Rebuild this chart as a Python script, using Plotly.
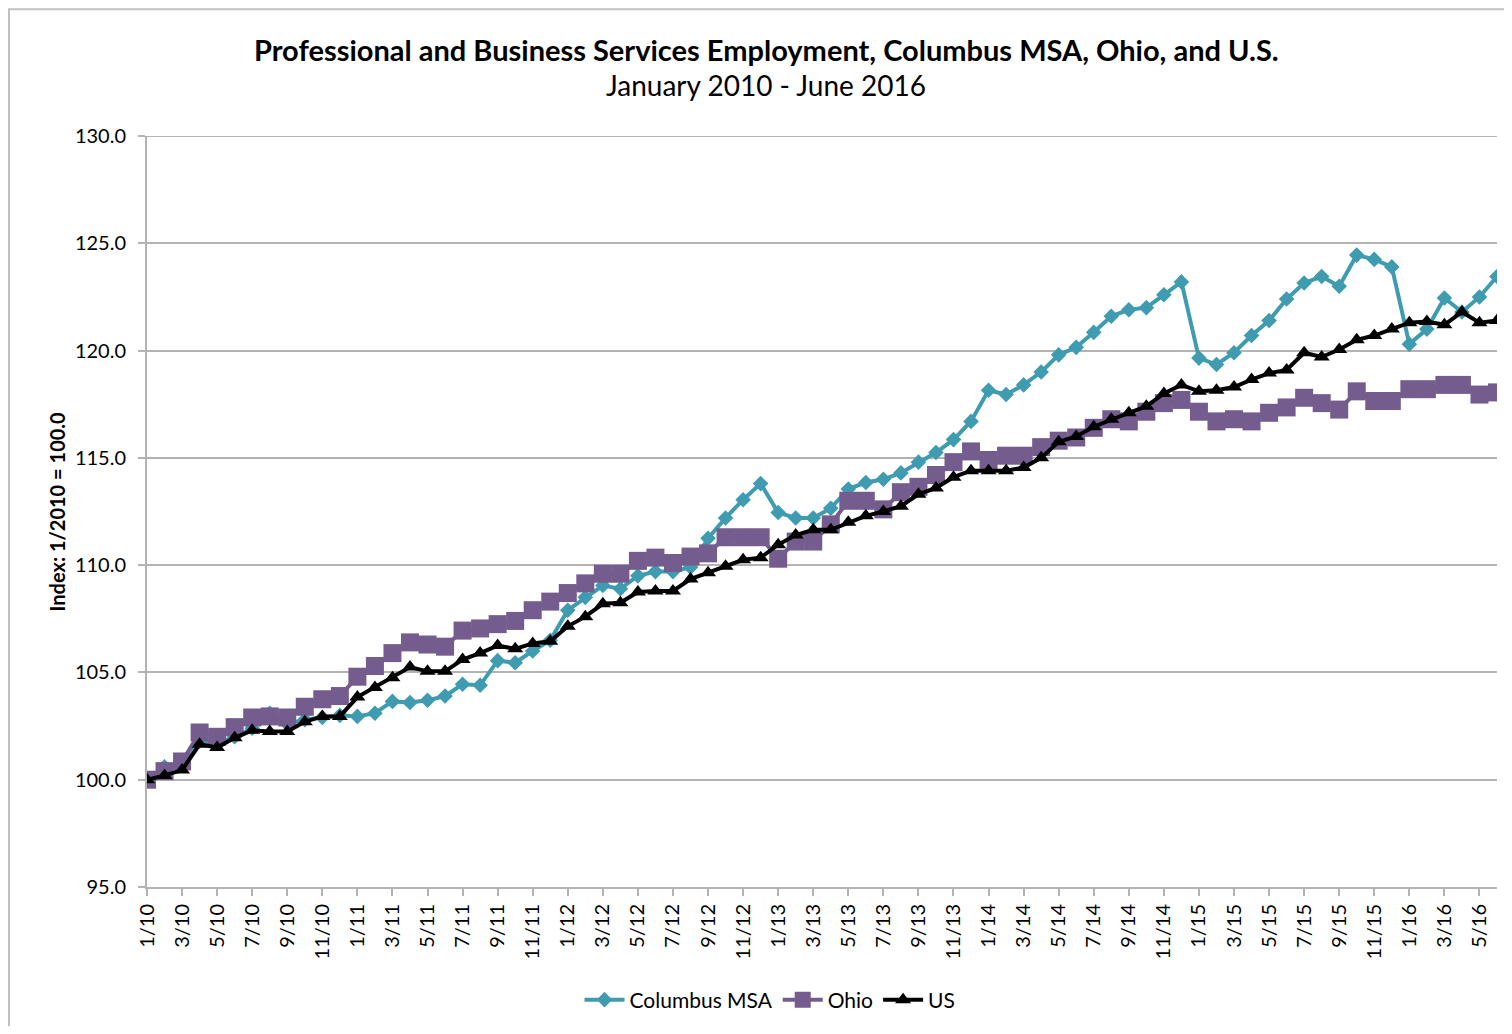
import plotly.graph_objects as go

# ---- data ----
months = [f"{m}/{y}" for y in range(10, 17) for m in range(1, 13)][:78]

columbus = [100.0, 100.6, 100.8, 101.8, 101.7, 102.0, 102.4, 103.1, 102.6, 102.8, 102.9, 103.0,
            102.95, 103.1, 103.65, 103.6, 103.7, 103.9, 104.45, 104.4, 105.55, 105.45, 106.0, 106.5,
            107.9, 108.5, 109.05, 108.9, 109.5, 109.7, 109.7, 109.9, 111.25, 112.2, 113.05, 113.8,
            112.45, 112.2, 112.2, 112.65, 113.55, 113.85, 114.0, 114.3, 114.8, 115.25, 115.85, 116.7,
            118.15, 117.95, 118.4, 119.0, 119.8, 120.15, 120.85, 121.6, 121.9, 122.0, 122.6, 123.2,
            119.65, 119.35, 119.9, 120.7, 121.4, 122.4, 123.15, 123.45, 123.0, 124.45, 124.25, 123.9,
            120.3, 121.0, 122.45, 121.8, 122.5, 123.45]

ohio = [100.0, 100.4, 100.85, 102.2, 102.0, 102.45, 102.9, 102.95, 102.9, 103.4, 103.75, 103.9,
        104.8, 105.3, 105.9, 106.4, 106.3, 106.2, 106.95, 107.05, 107.25, 107.4, 107.9, 108.3,
        108.7, 109.15, 109.6, 109.6, 110.2, 110.35, 110.1, 110.4, 110.55, 111.3, 111.3, 111.3,
        110.3, 111.1, 111.1, 111.9, 113.0, 113.0, 112.6, 113.4, 113.65, 114.2, 114.8, 115.3,
        114.9, 115.1, 115.1, 115.5, 115.8, 115.95, 116.4, 116.8, 116.7, 117.15, 117.55, 117.7,
        117.15, 116.7, 116.8, 116.7, 117.1, 117.35, 117.8, 117.55, 117.25, 118.1, 117.65, 117.65,
        118.2, 118.2, 118.4, 118.4, 117.95, 118.05]

us = [100.0, 100.2, 100.45, 101.65, 101.5, 101.95, 102.3, 102.25, 102.25, 102.7, 102.95, 102.95,
      103.85, 104.3, 104.75, 105.25, 105.05, 105.05, 105.6, 105.9, 106.25, 106.1, 106.35, 106.45,
      107.15, 107.6, 108.2, 108.25, 108.75, 108.8, 108.8, 109.35, 109.65, 109.95, 110.25, 110.35,
      110.95, 111.4, 111.65, 111.65, 112.0, 112.3, 112.5, 112.75, 113.3, 113.6, 114.1, 114.4,
      114.4, 114.4, 114.55, 115.0, 115.75, 116.0, 116.45, 116.8, 117.1, 117.4, 118.0, 118.4,
      118.1, 118.15, 118.3, 118.65, 118.95, 119.1, 119.9, 119.7, 120.05, 120.5, 120.7, 121.0,
      121.3, 121.35, 121.2, 121.8, 121.3, 121.4]

tick_labels = months[::2]
y_ticks = [95, 100, 105, 110, 115, 120, 125, 130]

# ---- layout constants (page px; the page body has an 8px margin) ----
OFF = 8
W, H = 1512 - 2 * OFF, 1034 - 2 * OFF
L, R, T, B = 147, 1497, 136, 888          # plot area in page px
pw, ph = R - L, B - T


def px_x(x):
    return (x - L) / pw


def px_y(y):
    return (B - y) / ph


FONT = "Lato"
teal = "#3f9cb0"
purple = "#745d8e"
grey = "#b3b3b3"

fig = go.Figure()
fig.add_trace(go.Scatter(x=months, y=columbus, name="Columbus MSA", mode="lines+markers",
                         line=dict(color=teal, width=4),
                         marker=dict(symbol="diamond", size=12, color=teal)))
fig.add_trace(go.Scatter(x=months, y=ohio, name="Ohio", mode="lines+markers",
                         line=dict(color=purple, width=4),
                         marker=dict(symbol="square", size=18, color=purple)))
fig.add_trace(go.Scatter(x=months, y=us, name="US", mode="lines+markers",
                         line=dict(color="black", width=4),
                         marker=dict(symbol="triangle-up", size=14, color="black")))

fig.update_layout(
    width=W, height=H,
    margin=dict(l=L - OFF, r=W - (R - OFF), t=T - OFF, b=H - (B - OFF)),
    paper_bgcolor="white", plot_bgcolor="white",
    font=dict(family=FONT, color="black", size=20),
    showlegend=True,
    legend=dict(orientation="h", x=px_x(770), y=px_y(1000), xanchor="center", yanchor="middle",
                font=dict(size=21, family=FONT, color="black"), itemwidth=40, tracegroupgap=0,
                bgcolor="rgba(0,0,0,0)"),
    xaxis=dict(type="category", range=[0, len(months) - 1], tickmode="array",
               tickvals=tick_labels, ticktext=tick_labels, tickangle=-90,
               showgrid=False, showline=True, linecolor=grey, linewidth=2,
               ticks="outside", ticklen=7, tickcolor=grey, tickwidth=2,
               tickfont=dict(size=20, family=FONT), zeroline=False),
    yaxis=dict(range=[95, 130], tickvals=y_ticks, ticktext=[f"{v:.1f}" for v in y_ticks],
               showgrid=True, gridcolor=grey, gridwidth=2,
               showline=True, linecolor=grey, linewidth=2,
               ticks="outside", ticklen=7, tickcolor=grey, tickwidth=2,
               ticklabelstandoff=8,
               tickfont=dict(size=20, family=FONT), zeroline=False),
    annotations=[
        dict(text="<b>Professional and Business Services Employment, Columbus MSA, Ohio, and U.S.</b>",
             x=px_x(766), y=px_y(49), xref="paper", yref="paper", showarrow=False,
             xanchor="center", yanchor="middle", font=dict(size=29, family=FONT)),
        dict(text="January 2010 - June 2016",
             x=px_x(766), y=px_y(85), xref="paper", yref="paper", showarrow=False,
             xanchor="center", yanchor="middle", font=dict(size=28, family=FONT)),
        dict(text="<b>Index: 1/2010 = 100.0</b>", textangle=-90,
             x=px_x(56), y=px_y(512), xref="paper", yref="paper", showarrow=False,
             xanchor="center", yanchor="middle", font=dict(size=20, family=FONT)),
    ],
    shapes=[
        dict(type="rect", xref="paper", yref="paper",
             x0=px_x(9), x1=px_x(1560), y0=px_y(1080), y1=px_y(9),
             line=dict(color="#c0c0c0", width=2), fillcolor="rgba(0,0,0,0)", layer="below"),
        dict(type="line", xref="paper", yref="y", x0=0, x1=1, y0=130, y1=130,
             line=dict(color=grey, width=2), layer="below"),
    ],
)

fig.write_html("out.html")
